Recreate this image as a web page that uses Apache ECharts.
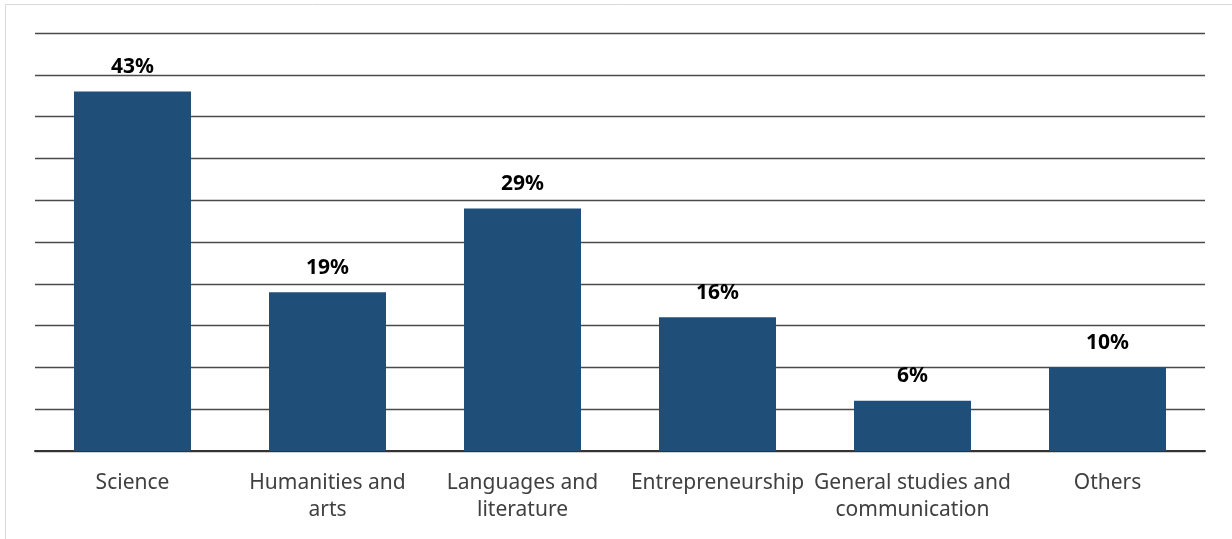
<!DOCTYPE html>
<html>
<head>
<meta charset="utf-8">
<script src="https://cdn.jsdelivr.net/npm/echarts@6/dist/echarts.min.js"></script>
<style>
  html, body { margin: 0; padding: 0; background: #fff; }
  #chart { width: 1232px; height: 539px; }
</style>
</head>
<body>
<div id="chart"></div>
<script>
// Share of courses by field (%)
const categories = [
  'Science',
  'Humanities and\narts',
  'Languages and\nliterature',
  'Entrepreneurship',
  'General studies and\ncommunication',
  'Others'
];
const shares = [43, 19, 29, 16, 6, 10];

const chart = echarts.init(document.getElementById('chart'), null, { renderer: 'canvas' });

chart.setOption({
  backgroundColor: '#ffffff',
  animation: false,
  graphic: [{
    type: 'rect',
    shape: { x: 5.5, y: 4.5, width: 1240, height: 560 },
    style: { fill: 'none', stroke: '#d9d9d9', lineWidth: 1 },
    silent: true,
    z: -1
  }],
  grid: { left: 35, right: 27, top: 33, bottom: 88, containLabel: false },
  xAxis: {
    type: 'category',
    data: categories,
    axisTick: { show: false },
    axisLine: { show: true, lineStyle: { color: '#333333', width: 2 } },
    axisLabel: {
      interval: 0,
      margin: 19,
      color: '#404040',
      fontFamily: 'Noto Sans, sans-serif',
      fontSize: 21,
      lineHeight: 27
    }
  },
  yAxis: {
    type: 'value',
    min: 0,
    max: 50,
    interval: 5,
    axisLabel: { show: false },
    axisLine: { show: false },
    axisTick: { show: false },
    splitLine: { show: true, lineStyle: { color: '#4a4a4a', width: 1.4 } }
  },
  series: [{
    type: 'bar',
    data: shares,
    barWidth: '60%',
    itemStyle: { color: '#1F4E79' },
    label: {
      show: true,
      position: 'top',
      distance: 14,
      formatter: '{c}%',
      color: '#000000',
      fontWeight: 'bold',
      fontFamily: 'Noto Sans, sans-serif',
      fontSize: 21
    }
  }]
});
</script>
</body>
</html>
